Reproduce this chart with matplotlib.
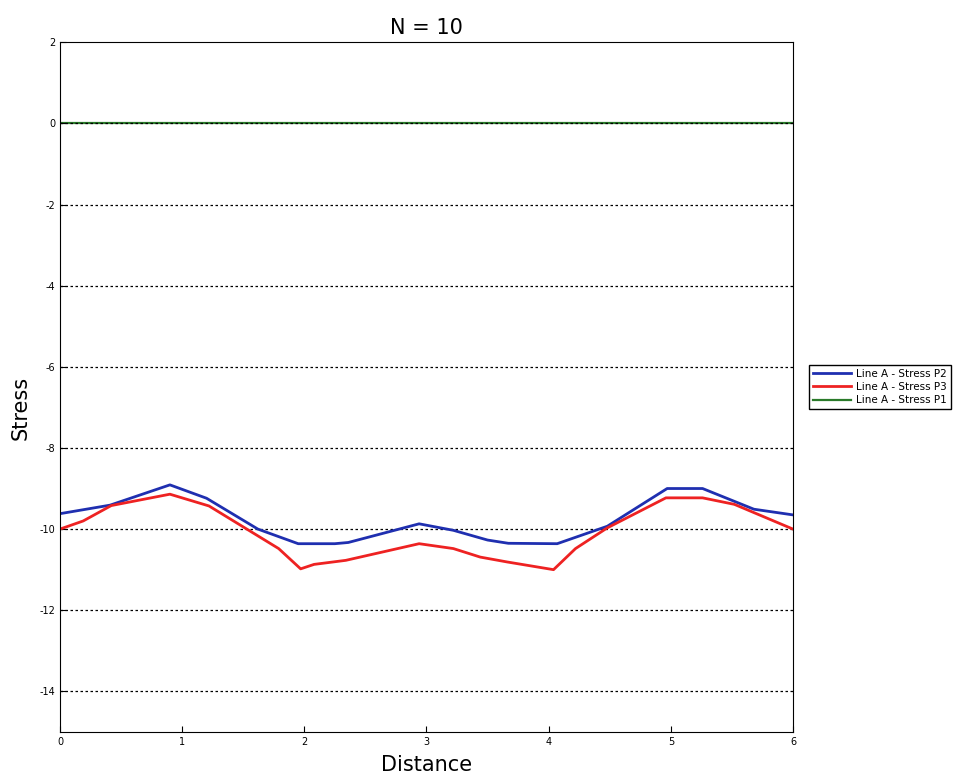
import matplotlib
matplotlib.use('Agg')
import matplotlib.pyplot as plt
import numpy as np

plt.rcParams['axes.unicode_minus'] = False

# 读图估计的数据
x_p2 = [0.0, 0.41, 0.90, 1.20, 1.62, 1.95, 2.25, 2.36, 2.94, 3.22, 3.50, 3.67, 4.07, 4.48, 4.97, 5.26, 5.68, 6.0]
y_p2 = [-9.62, -9.41, -8.91, -9.24, -10.0, -10.36, -10.36, -10.33, -9.87, -10.03, -10.27, -10.35, -10.36, -9.93, -9.0, -9.0, -9.51, -9.65]

x_p3 = [0.0, 0.19, 0.42, 0.90, 1.22, 1.60, 1.79, 1.97, 2.08, 2.34, 2.94, 3.22, 3.44, 3.66, 4.04, 4.22, 4.48, 4.96, 5.26, 5.52, 6.0]
y_p3 = [-10.0, -9.80, -9.42, -9.14, -9.43, -10.13, -10.48, -10.98, -10.87, -10.77, -10.36, -10.48, -10.69, -10.81, -11.0, -10.48, -9.97, -9.23, -9.23, -9.39, -10.0]

x_p1 = [0.0, 1.0, 2.0, 3.0, 4.0, 5.0, 6.0]
y_p1 = [0, 0, 0, 0, 0, 0, 0]

yticks = [-14, -12, -10, -8, -6, -4, -2, 0, 2]
xticks = [0, 1, 2, 3, 4, 5, 6]

fig = plt.figure(figsize=(9.64, 7.82), dpi=100)
ax = fig.add_axes([0.0622, 0.064, 0.7604, 0.882])

ax.plot(x_p2, y_p2, color='#1f2fb0', lw=2, label='Line A - Stress P2', zorder=3)
ax.plot(x_p3, y_p3, color='#ee2222', lw=2, label='Line A - Stress P3', zorder=3)
ax.plot(x_p1, y_p1, color='#2a7a2a', lw=1.6, label='Line A - Stress P1', zorder=1)

ax.set_xlim(0, 6)
ax.set_ylim(-15, 2)
ax.set_xticks(xticks)
ax.set_yticks(yticks)
ax.yaxis.grid(True, linestyle=(0, (2, 2)), color='black', lw=0.9)
ax.set_axisbelow('line')
ax.get_ygridlines()[-1].set_visible(False)
ax.tick_params(direction='in', labelsize=7, length=4)
for sp in ax.spines.values():
    sp.set_zorder(5)

ax.set_title('N = 10', fontsize=15)
ax.set_xlabel('Distance', fontsize=15, labelpad=6)
ax.set_ylabel('Stress', fontsize=15)
ax.yaxis.set_label_coords(-0.04, 0.47)

ax.legend(loc='center left', bbox_to_anchor=(1.015, 0.5), fontsize=7.5,
          fancybox=False, edgecolor='black', framealpha=1, handlelength=3.6,
          borderpad=0.4, labelspacing=0.3, handletextpad=0.5)

plt.savefig('out.png', dpi=100)
